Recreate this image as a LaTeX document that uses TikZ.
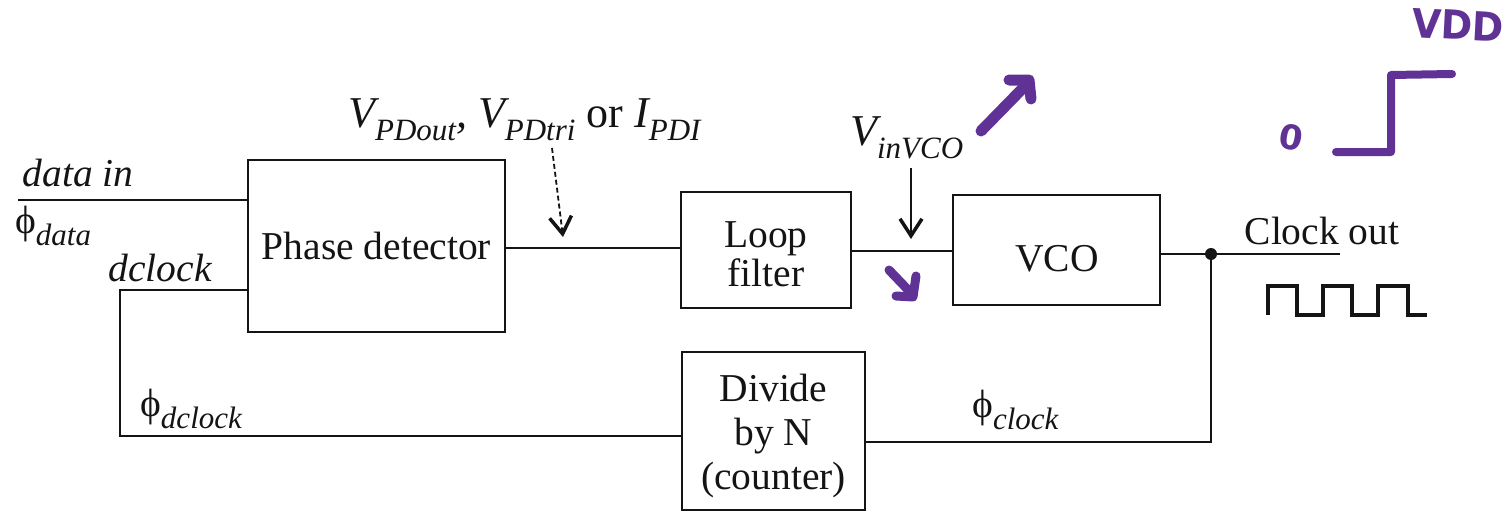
\documentclass[tikz,border=0pt]{standalone}
\usepackage{fontspec}
\setmainfont{Liberation Serif}
\newfontfamily\handfont{DejaVu Sans}
\usetikzlibrary{arrows.meta}
\definecolor{ink}{RGB}{20,20,20}
\definecolor{marker}{RGB}{96,50,150}
\newcommand\sbs[1]{\raisebox{-0.30em}{\fontsize{31}{33}\selectfont\itshape #1}}
\newcommand\bigtxt{\fontsize{39.5}{44}\selectfont}
\newcommand\vtxt{\fontsize{44}{50}\selectfont}
\begin{document}
\begin{tikzpicture}[x=1pt,y=-1pt,
  blk/.style={draw=ink,line width=2.6pt,inner sep=0pt},
  blktxt/.style={inner sep=0pt,align=center,text=ink},
  wire/.style={draw=ink,line width=2.5pt},
  lbl/.style={inner sep=0pt,font=\bigtxt,text=ink},
  pen/.style={draw=marker,line width=11pt,line cap=round,line join=round},
  tip/.style={-{Straight Barb[length=17pt,width=22pt,line width=3.5pt]}}
]
\useasboundingbox (0,0) rectangle (1511,522);
% blocks
\node[blk,minimum width=257pt,minimum height=172pt] (pd) at (376.5,246) {};
\node[blktxt,font=\bigtxt] (pdt) at (pd.center) {Phase detector};
\node[blk,minimum width=170pt,minimum height=116pt] (lf) at (766,250) {};
\node[blktxt,font=\fontsize{39.5}{39}\selectfont] (lft) at (766,254.5) {Loop\\filter};
\node[blk,minimum width=207pt,minimum height=110pt] (vco) at (1056.5,250) {};
\node[blktxt,font=\bigtxt] (vcot) at (1057,259) {VCO};
\node[blk,minimum width=183pt,minimum height=158pt] (div) at (773.5,431) {};
\node[blktxt,font=\fontsize{39.5}{44}\selectfont] (divt) at (773.5,436) {Divide\\by N\\(counter)};
% coordinates
\coordinate (din) at (18,200);
\coordinate (pdin) at (248,200);
\coordinate (pdfb) at (248,290);
\coordinate (fbA) at (120,290);
\coordinate (fbB) at (120,436);
\coordinate (divin) at (682,436);
\coordinate (pdout) at (505,248);
\coordinate (lfin) at (681,248);
\coordinate (lfout) at (851,251);
\coordinate (vcoin) at (953,251);
\coordinate (vcoout) at (1160,254);
\coordinate (jn) at (1211,254);
\coordinate (cout) at (1340,254);
\coordinate (jnB) at (1211,442);
\coordinate (divout) at (865,442);
% wires
\draw[wire] (din) -- (pdin);
\draw[wire] (pdfb) -- (fbA) -- (fbB) -- (divin);
\draw[wire] (pdout) -- (lfin);
\draw[wire] (lfout) -- (vcoin);
\draw[wire] (vcoout) -- (cout);
\draw[wire] (jn) -- (jnB) -- (divout);
\fill[ink] (jn) circle (6pt);
% labels
\node[lbl,font=\bigtxt\itshape] (ldata) at (78,173) {data in};
\node[lbl,anchor=west] (lphid) at (15,226) {ϕ\sbs{data}};
\node[lbl,font=\bigtxt\itshape] (ldclk) at (160,268) {dclock};
\node[lbl,anchor=west] (lphidc) at (140,409) {ϕ\sbs{dclock}};
\node[lbl,anchor=west] (lphic) at (972,410) {ϕ\sbs{clock}};
\node[lbl,anchor=base west,font=\vtxt] (lvpd) at (348,127) {\itshape V\sbs{PDout}, V\sbs{PDtri}\upshape{} or \itshape I\sbs{PDI}};
\node[lbl,anchor=base west,font=\vtxt] (lvin) at (850,145) {\itshape V\sbs{inVCO}};
\node[lbl] (lclk) at (1322,231) {Clock out};
% signal arrows
\coordinate (dA) at (552,148);
\coordinate (dB) at (563,237);
\draw[wire,line width=1.8pt,dash pattern=on 5pt off 3pt,tip] (dA) -- (dB);
\coordinate (vA) at (911,168);
\coordinate (vB) at (911,239);
\draw[wire,tip] (vA) -- (vB);
% clock waveform
\draw[wire,line width=3.2pt] (1268,315) -- (1268,286) -- (1297,286) -- (1297,315) -- (1323,315) -- (1323,286) -- (1352,286) -- (1352,315) -- (1378,315) -- (1378,286) -- (1408,286) -- (1408,315) -- (1427,315);
% handwritten marker annotations
\draw[pen] (981,131) -- (1025,86);
\draw[pen] (1009,80) -- (1029,80) -- (1031,99);
\draw[pen,line width=9pt] (889,270) -- (912,294);
\draw[pen,line width=9pt] (896,296) -- (913,297) -- (916,276);
\draw[pen,line width=8pt] (1336,152) -- (1391,152) -- (1391,75) -- (1452,74);
\node[inner sep=0pt,text=marker,font=\handfont\bfseries\fontsize{34}{36}\selectfont,rotate=-10] (zero) at (1291,137) {0};
\node[inner sep=0pt,text=marker,font=\handfont\bfseries\fontsize{40}{42}\selectfont,rotate=-3,xscale=0.95] (vdd) at (1458,25) {VDD};
\end{tikzpicture}
\end{document}
